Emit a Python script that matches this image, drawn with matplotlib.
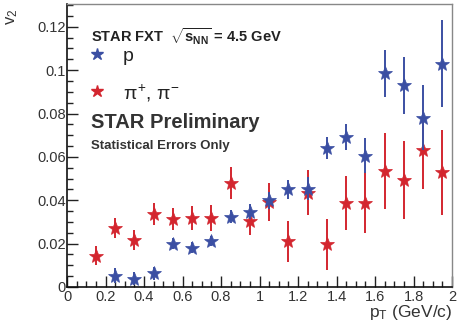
import matplotlib
matplotlib.use("Agg")
import matplotlib.pyplot as plt
from matplotlib.ticker import MultipleLocator

pt_p = [0.25, 0.35, 0.45, 0.55, 0.65, 0.75, 0.85, 0.95, 1.05, 1.15, 1.25, 1.35, 1.45, 1.55, 1.65, 1.75, 1.85, 1.95]
v2_p = [0.0052, 0.0037, 0.0064, 0.0200, 0.0182, 0.0212, 0.0323, 0.0347, 0.0399, 0.0450, 0.0454, 0.0641, 0.0693, 0.0606, 0.0985, 0.0930, 0.0780, 0.1030]
err_p = [0.0034, 0.0030, 0.0030, 0.0025, 0.0025, 0.0025, 0.0030, 0.0035, 0.0040, 0.0045, 0.0055, 0.0050, 0.0060, 0.0080, 0.0110, 0.0130, 0.0150, 0.0200]

pt_pi = [0.15, 0.25, 0.35, 0.45, 0.55, 0.65, 0.75, 0.85, 0.95, 1.05, 1.15, 1.25, 1.35, 1.45, 1.55, 1.65, 1.75, 1.85, 1.95]
v2_pi = [0.0144, 0.0271, 0.0216, 0.0338, 0.0312, 0.0317, 0.0317, 0.0480, 0.0304, 0.0393, 0.0210, 0.0434, 0.0197, 0.0388, 0.0388, 0.0534, 0.0495, 0.0633, 0.0529]
err_pi = [0.0043, 0.0046, 0.0045, 0.0050, 0.0050, 0.0055, 0.0060, 0.0074, 0.0065, 0.0087, 0.0094, 0.0104, 0.0118, 0.0126, 0.0140, 0.0175, 0.0180, 0.0183, 0.0196]

xticks = [0, 0.2, 0.4, 0.6, 0.8, 1, 1.2, 1.4, 1.6, 1.8, 2]
xticklabels = ["0", "0.2", "0.4", "0.6", "0.8", "1", "1.2", "1.4", "1.6", "1.8", "2"]
yticks = [0, 0.02, 0.04, 0.06, 0.08, 0.1, 0.12]
yticklabels = ["0", "0.02", "0.04", "0.06", "0.08", "0.1", "0.12"]

BLUE = "#3b4fa3"
RED = "#d3262f"
plt.rcParams['font.family'] = ['Liberation Sans', 'DejaVu Sans']
plt.rcParams['mathtext.fontset'] = 'custom'
plt.rcParams['mathtext.rm'] = 'Liberation Sans'
plt.rcParams['mathtext.it'] = 'Liberation Sans'
plt.rcParams['mathtext.bf'] = 'Liberation Sans:bold'

fig = plt.figure(figsize=(4.62, 3.27), dpi=100)
ax = fig.add_axes([67/462, 40/327, 385/462, 283/327])

ax.errorbar(pt_p, v2_p, yerr=err_p, fmt='*', color=BLUE, ms=10, mew=0.5, elinewidth=1.4, capsize=0, zorder=3)
ax.errorbar(pt_pi, v2_pi, yerr=err_pi, fmt='*', color=RED, ms=10, mew=0.5, elinewidth=1.4, capsize=0, zorder=2)

ax.set_xlim(0, 2)
ax.set_ylim(0, 0.1305)
ax.set_xticks(xticks)
ax.set_xticklabels(xticklabels)
ax.set_yticks(yticks)
ax.set_yticklabels(yticklabels)
ax.xaxis.set_minor_locator(MultipleLocator(0.05))
ax.yaxis.set_minor_locator(MultipleLocator(0.005))
ax.tick_params(which='both', direction='in', top=False, right=False, colors='#222222', labelcolor='#333333', labelsize=10.5)
ax.tick_params(which='major', length=8, width=1)
ax.tick_params(which='minor', length=4, width=1)
ax.tick_params(axis='x', pad=2)
ax.tick_params(axis='y', pad=1)
for s in ['left', 'bottom']:
    ax.spines[s].set_linewidth(1.2)
    ax.spines[s].set_color('#111111')
for s in ['top', 'right']:
    ax.spines[s].set_linewidth(1.0)
    ax.spines[s].set_color('#888888')

fig.text(12/462, 1 - 17/327, r"v$_2$", rotation=90, ha='center', va='center', fontsize=12, color='#333333')
fig.text(452/462, 1 - 313/327, r"p$_{\rm T}$ (GeV/c)", ha='right', va='center', fontsize=12.5, color='#333333')

ax.text(0.063, 0.885, r"STAR FXT  $\sqrt{\mathbf{s_{NN}}}$ = 4.5 GeV", transform=ax.transAxes, fontsize=10.5, fontweight='bold', color='#222222', va='center')
ax.plot([0.155], [0.1075], marker='*', color=BLUE, ms=9, ls='none', clip_on=False)
ax.text(0.145, 0.815, "p", transform=ax.transAxes, fontsize=14, color='#222222', va='center')
ax.plot([0.155], [0.0905], marker='*', color=RED, ms=9, ls='none', clip_on=False)
ax.text(0.145, 0.685, r"$\pi^{+}$, $\pi^{-}$", transform=ax.transAxes, fontsize=14, color='#222222', va='center')
ax.text(0.063, 0.58, "STAR Preliminary", transform=ax.transAxes, fontsize=14.5, fontweight='bold', color='#333333', va='center')
ax.text(0.063, 0.50, "Statistical Errors Only", transform=ax.transAxes, fontsize=9.5, fontweight='bold', color='#333333', va='center')

fig.savefig("out.png", dpi=100)
